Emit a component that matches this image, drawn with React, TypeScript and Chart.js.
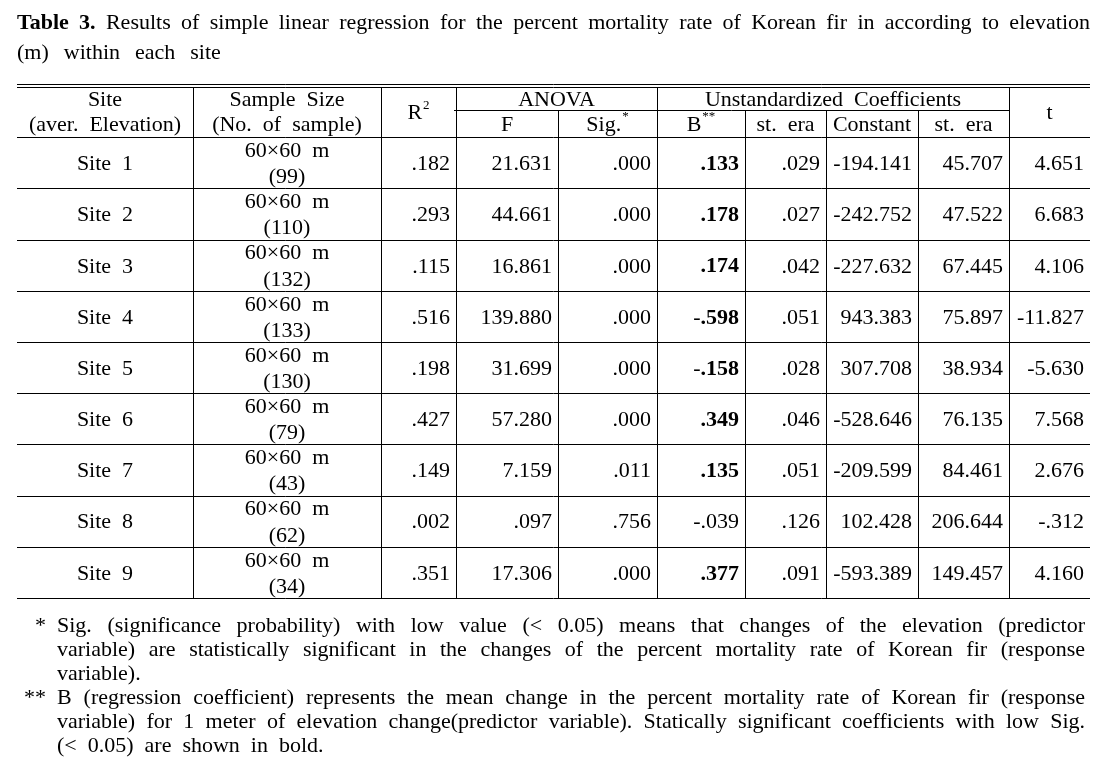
import { useEffect, useRef } from 'react';
import { Chart, registerables } from 'chart.js';

Chart.register(...registerables);

// ---- data ----
const SITES = ['Site 1', 'Site 2', 'Site 3', 'Site 4', 'Site 5', 'Site 6', 'Site 7', 'Site 8', 'Site 9'];
const PLOT_SIZES = ['60×60 m', '60×60 m', '60×60 m', '60×60 m', '60×60 m', '60×60 m', '60×60 m', '60×60 m', '60×60 m'];
const SAMPLES = [99, 110, 132, 133, 130, 79, 43, 62, 34];
const R2 = [0.182, 0.293, 0.115, 0.516, 0.198, 0.427, 0.149, 0.002, 0.351];
const F_VALUES = [21.631, 44.661, 16.861, 139.88, 31.699, 57.28, 7.159, 0.097, 17.306];
const SIG = [0.0, 0.0, 0.0, 0.0, 0.0, 0.0, 0.011, 0.756, 0.0];
const B = [0.133, 0.178, 0.174, -0.598, -0.158, 0.349, 0.135, -0.039, 0.377];
const B_SE = [0.029, 0.027, 0.042, 0.051, 0.028, 0.046, 0.051, 0.126, 0.091];
const CONSTANT = [-194.141, -242.752, -227.632, 943.383, 307.708, -528.646, -209.599, 102.428, -593.389];
const CONSTANT_SE = [45.707, 47.522, 67.445, 75.897, 38.934, 76.135, 84.461, 206.644, 149.457];
const T_VALUES = [4.651, 6.683, 4.106, -11.827, -5.63, 7.568, 2.676, -0.312, 4.16];

const TITLE_BOLD = 'Table 3.';
const TITLE_LINE1 = 'Results of simple linear regression for the percent mortality rate of Korean fir in according to elevation';
const TITLE_LINE2 = '(m) within each site';
const NOTE1 = [
  'Sig. (significance probability) with low value (< 0.05) means that changes of the elevation (predictor',
  'variable) are statistically significant in the changes of the percent mortality rate of Korean fir (response',
  'variable).',
];
const NOTE2 = [
  'B (regression coefficient) represents the mean change in the percent mortality rate of Korean fir (response',
  'variable) for 1 meter of elevation change(predictor variable). Statically significant coefficients with low Sig.',
  '(< 0.05) are shown in bold.',
];

// ---- layout (not data) ----
const COL_WIDTHS = [176, 188, 75, 102, 99, 88, 81, 92, 91, 81];
const FONT = '"Liberation Serif", "Times New Roman", serif';
const SIZE = 22;
const GAP = 11;
const DY = 1.5;

const fmt = (v: number) => v.toFixed(3).replace(/^(-?)0\./, '$1.');
const font = (size: number, bold?: boolean) => `${bold ? 'bold ' : ''}${size}px ${FONT}`;

type Word = { t: string; b?: boolean };
const words = (s: string, b?: boolean): Word[] => s.split(' ').filter(Boolean).map((t) => ({ t, b }));

function drawWords(
  ctx: CanvasRenderingContext2D,
  ws: Word[],
  y: number,
  x0: number,
  align: 'left' | 'center' | 'right' | 'justify',
  x1 = 0,
  gap = GAP,
  size = SIZE
) {
  const widths = ws.map((w) => {
    ctx.font = font(size, w.b);
    return ctx.measureText(w.t).width;
  });
  const total = widths.reduce((a, b) => a + b, 0);
  let g = gap;
  let x = x0;
  if (align === 'justify' && ws.length > 1) {
    g = (x1 - x0 - total) / (ws.length - 1);
  } else {
    const w = total + g * (ws.length - 1);
    if (align === 'right') x = x0 - w;
    else if (align === 'center') x = x0 - w / 2;
  }
  ctx.textAlign = 'left';
  ctx.textBaseline = 'middle';
  ws.forEach((w, i) => {
    ctx.font = font(size, w.b);
    ctx.fillText(w.t, x, y + DY);
    x += widths[i] + g;
  });
}

function drawSup(ctx: CanvasRenderingContext2D, main: string, sup: string, cx: number, y: number) {
  ctx.font = font(SIZE);
  const mw = ctx.measureText(main).width;
  ctx.font = font(13);
  const sw = ctx.measureText(sup).width;
  const x = cx - (mw + sw + 1) / 2;
  ctx.textAlign = 'left';
  ctx.textBaseline = 'middle';
  ctx.font = font(SIZE);
  ctx.fillText(main, x, y + DY);
  ctx.font = font(13);
  ctx.fillText(sup, x + mw + 1, y + DY - 8);
}

const tablePlugin = {
  id: 'tablePlugin',
  beforeDraw(chart: any) {
    const ctx = chart.ctx as CanvasRenderingContext2D;
    ctx.save();
    ctx.fillStyle = '#fff';
    ctx.fillRect(0, 0, chart.width, chart.height);
    ctx.restore();
  },
  afterDraw(chart: any) {
    const ctx = chart.ctx as CanvasRenderingContext2D;
    const xs = chart.scales.x;
    const ys = chart.scales.y;
    const cum: number[] = [0];
    COL_WIDTHS.forEach((w) => cum.push(cum[cum.length - 1] + w));
    const ex = (i: number) => xs.getPixelForValue(cum[i]);
    const cx = (i: number) => (ex(i) + ex(i + 1)) / 2;
    const py = (v: number) => ys.getPixelForValue(v);
    const crisp = (v: number) => Math.round(v) + 0.5;
    const left = ex(0);
    const right = ex(COL_WIDTHS.length);
    const top = chart.chartArea.top;
    const bottom = py(SITES.length);

    ctx.save();
    ctx.fillStyle = '#000';
    ctx.strokeStyle = '#000';
    ctx.lineWidth = 1;

    // title
    drawWords(ctx, [...words(TITLE_BOLD, true), ...words(TITLE_LINE1)], top - 62, left, 'justify', right);
    drawWords(ctx, words(TITLE_LINE2), top - 32, left, 'left', 0, 15);

    // lines
    const hline = (y: number, a: number, b: number) => {
      ctx.beginPath();
      ctx.moveTo(a, crisp(y));
      ctx.lineTo(b, crisp(y));
      ctx.stroke();
    };
    const vline = (x: number, a: number, b: number) => {
      ctx.beginPath();
      ctx.moveTo(crisp(x), a);
      ctx.lineTo(crisp(x), b);
      ctx.stroke();
    };
    const mid = py(-0.53);
    hline(top, left, right);
    hline(top + 3, left, right);
    hline(mid, ex(3) - 2, ex(9));
    for (let r = 0; r <= SITES.length; r++) hline(py(r), left, right);
    const subCols = [4, 6, 7, 8];
    for (let c = 1; c < COL_WIDTHS.length; c++) {
      vline(ex(c), subCols.includes(c) ? crisp(mid) : top + 3, bottom);
    }

    // header
    const h1 = py(-0.76);
    const h2 = py(-0.27);
    const hm = py(-0.5);
    drawWords(ctx, words('Site'), h1, cx(0), 'center');
    drawWords(ctx, words('(aver. Elevation)'), h2, cx(0), 'center');
    drawWords(ctx, words('Sample Size'), h1, cx(1), 'center');
    drawWords(ctx, words('(No. of sample)'), h2, cx(1), 'center');
    drawSup(ctx, 'R', '2', cx(2), hm);
    drawWords(ctx, words('ANOVA'), h1, (ex(3) + ex(5)) / 2, 'center');
    drawWords(ctx, words('F'), h2, cx(3), 'center');
    drawSup(ctx, 'Sig.', '*', cx(4), h2);
    drawWords(ctx, words('Unstandardized Coefficients'), h1, (ex(5) + ex(9)) / 2, 'center');
    drawSup(ctx, 'B', '**', cx(5), h2);
    drawWords(ctx, words('st. era'), h2, cx(6), 'center');
    drawWords(ctx, words('Constant'), h2, cx(7), 'center');
    drawWords(ctx, words('st. era'), h2, cx(8), 'center');
    drawWords(ctx, words('t'), hm, cx(9), 'center');

    // body
    const pad = 6;
    SITES.forEach((site, i) => {
      const yc = py(i + 0.5);
      drawWords(ctx, words(site), yc, cx(0), 'center');
      drawWords(ctx, words(PLOT_SIZES[i]), py(i + 0.245), cx(1), 'center');
      drawWords(ctx, words(`(${SAMPLES[i]})`), py(i + 0.755), cx(1), 'center');
      const cols = [R2[i], F_VALUES[i], SIG[i], B[i], B_SE[i], CONSTANT[i], CONSTANT_SE[i], T_VALUES[i]];
      cols.forEach((v, k) => {
        const col = k + 2;
        const s = fmt(v);
        const isB = col === 5;
        const bold = isB && SIG[i] < 0.05;
        const rx = ex(col + 1) - pad;
        if (bold && s.startsWith('-')) {
          ctx.font = font(SIZE, true);
          const w = ctx.measureText(s.slice(1)).width;
          drawWords(ctx, [{ t: s.slice(1), b: true }], yc, rx, 'right');
          drawWords(ctx, [{ t: '-' }], yc, rx - w, 'right');
        } else {
          drawWords(ctx, [{ t: s, b: bold }], yc, rx, 'right');
        }
      });
    });

    // footnotes
    const noteX = 57;
    const noteR = 1085;
    const markR = 46;
    const n0 = bottom + 27;
    const lh = 24;
    const notes: [string, string[]][] = [
      ['*', NOTE1],
      ['**', NOTE2],
    ];
    let line = 0;
    notes.forEach(([mark, lines]) => {
      ctx.font = font(SIZE);
      ctx.textAlign = 'right';
      ctx.textBaseline = 'middle';
      ctx.fillText(mark, markR, n0 + line * lh + DY);
      lines.forEach((txt, j) => {
        const last = j === lines.length - 1;
        drawWords(ctx, words(txt), n0 + line * lh, noteX, last ? 'left' : 'justify', noteR);
        line++;
      });
    });

    ctx.restore();
  },
};

export default function App() {
  const ref = useRef<HTMLCanvasElement | null>(null);
  useEffect(() => {
    if (!ref.current) return;
    const totalW = COL_WIDTHS.reduce((a, b) => a + b, 0);
    const chart = new Chart(ref.current, {
      type: 'scatter',
      data: { datasets: [{ data: [], pointRadius: 0 }] },
      options: {
        animation: false,
        responsive: false,
        devicePixelRatio: 1,
        layout: { padding: { left: 17, right: 21, top: 84, bottom: 168 } },
        plugins: { legend: { display: false }, tooltip: { enabled: false } },
        scales: {
          x: { type: 'linear', min: 0, max: totalW, display: false },
          y: { type: 'linear', min: -1.04, max: SITES.length, reverse: true, display: false },
        },
      },
      plugins: [tablePlugin],
    });
    return () => chart.destroy();
  }, []);
  return (
    <div style={{ position: 'absolute', left: 0, top: 0, width: 1111, height: 766, background: '#fff' }}>
      <canvas ref={ref} width={1111} height={766} style={{ display: 'block' }} />
    </div>
  );
}
